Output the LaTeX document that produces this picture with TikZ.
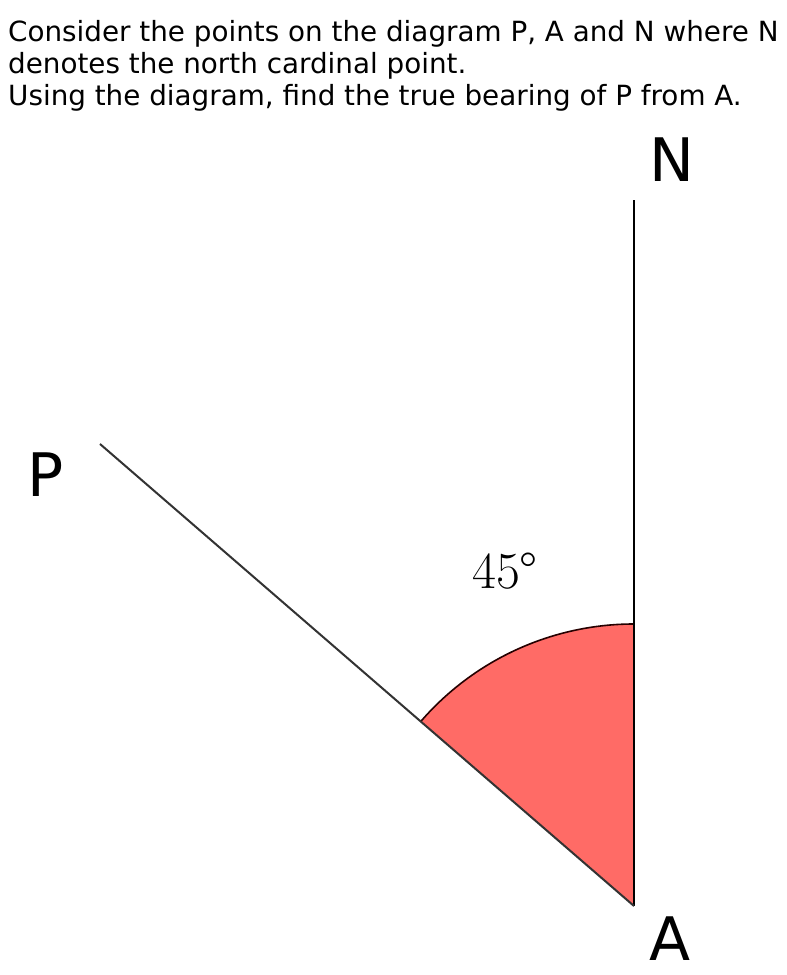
\documentclass[tikz,border=0pt]{standalone}
\usepackage{fontspec}
\setmainfont{DejaVu Sans}
\newfontfamily\lmfont{Latin Modern Roman}
\definecolor{sectorred}{RGB}{255,107,102}
\tikzset{
  qtext/.style={anchor=base west, inner sep=0pt, font=\fontsize{27.8}{32}\selectfont},
  ptlabel/.style={anchor=base, inner sep=0pt, font=\fontsize{60}{72}\selectfont},
  ray/.style={line width=2pt},
}
\begin{document}
\begin{tikzpicture}[x=1pt,y=1pt]
\useasboundingbox (0,0) rectangle (787,975);
\fill[white] (0,0) rectangle (787,975);
\coordinate (A) at (634,69);
\coordinate (N) at (634,775);
\coordinate (P) at (100,531);
\coordinate (T) at (634,351);
% sector
\fill[sectorred] (A) -- (T) arc[start angle=90, end angle=139.13, radius=282] -- cycle;
\draw[line width=1.6pt, black!85!red] (T) arc[start angle=90, end angle=139.13, radius=282];
% rays
\draw[ray, black] (A) -- (N);
\draw[ray, black!80] (A) -- (P);
% labels
\node[qtext] (q1) at (8,933) {Consider the points on the diagram P, A and N where N};
\node[qtext] (q2) at (8,901) {denotes the north cardinal point.};
\node[qtext] (q3) at (8,869) {Using the diagram, find the true bearing of P from A.};
\node[ptlabel] (nl) at (672,793) {N};
\node[ptlabel] (pl) at (46,478) {P};
\node[ptlabel] (al) at (670,15) {A};
\node[anchor=base west, inner sep=0pt, font=\lmfont\fontsize{52}{60}\selectfont] (ang) at (472,386) {45°};
\end{tikzpicture}
\end{document}
